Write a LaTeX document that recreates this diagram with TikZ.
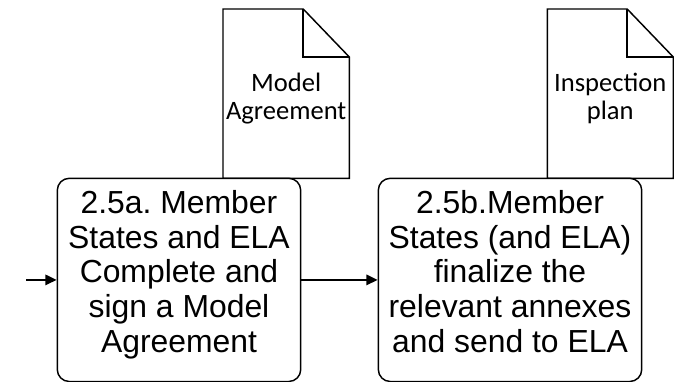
\documentclass[tikz,border=0pt]{standalone}
\usepackage{fontspec}
\setmainfont{Liberation Sans}
\newfontfamily\docfont{Carlito}
\usetikzlibrary{arrows.meta}
\frenchspacing

\newcommand{\upstrut}{\rule{0pt}{18pt}}
\newcommand{\downstrut}{\rule[-13.4pt]{0pt}{13.4pt}}

\begin{document}
\begin{tikzpicture}[scale=1,
  docline/.style={line width=1.1pt,line join=miter},
  stepbox/.style={draw,line width=1.1pt,rounded corners=9pt,fill=white,align=center,
    minimum height=5.376cm,inner sep=0pt,font=\fontsize{24}{26.25}\selectfont},
  doctext/.style={align=center,inner sep=0pt,font=\docfont\fontsize{20}{21.75}\selectfont},
  flow/.style={line width=1.1pt,-{Triangle[length=8.5pt,width=8pt]}}]
\useasboundingbox (0,0) rectangle (17.833,10.107);

 % documents
 \draw[docline] (5.9,5.389)--(5.9,9.869)--(8.022,9.869)--(9.242,8.599)--(9.242,5.389)--cycle;
 \draw[docline] (8.022,9.869)--(8.022,8.599)--(9.242,8.599);
 \draw[docline] (14.48,5.389)--(14.48,9.869)--(16.594,9.869)--(17.814,8.599)--(17.814,5.389)--cycle;
 \draw[docline] (16.594,9.869)--(16.594,8.599)--(17.814,8.599);

 \node[doctext] at (7.571,7.469) (modeldoc) {Model\strut\\Agreement\strut};
 \node[doctext] at (16.147,7.469) (plandoc) {Inspection\strut\\plan\strut};

 % steps
 \node[stepbox,minimum width=6.44cm] at (4.736,2.701) (sign)
   {\upstrut 2.5a. Member\\States and ELA\\Complete and\\sign a Model\\Agreement\downstrut};
 \node[stepbox,minimum width=6.969cm] at (13.494,2.701) (annex)
   {\upstrut 2.5b.Member\\States (and ELA)\\finalize the\\relevant annexes\\and send to ELA\downstrut};

 \coordinate (start) at (0.69,2.701);
 \draw[flow] (start)--(sign.west);
 \draw[flow] (sign.east)--(annex.west);
\end{tikzpicture}
\end{document}
